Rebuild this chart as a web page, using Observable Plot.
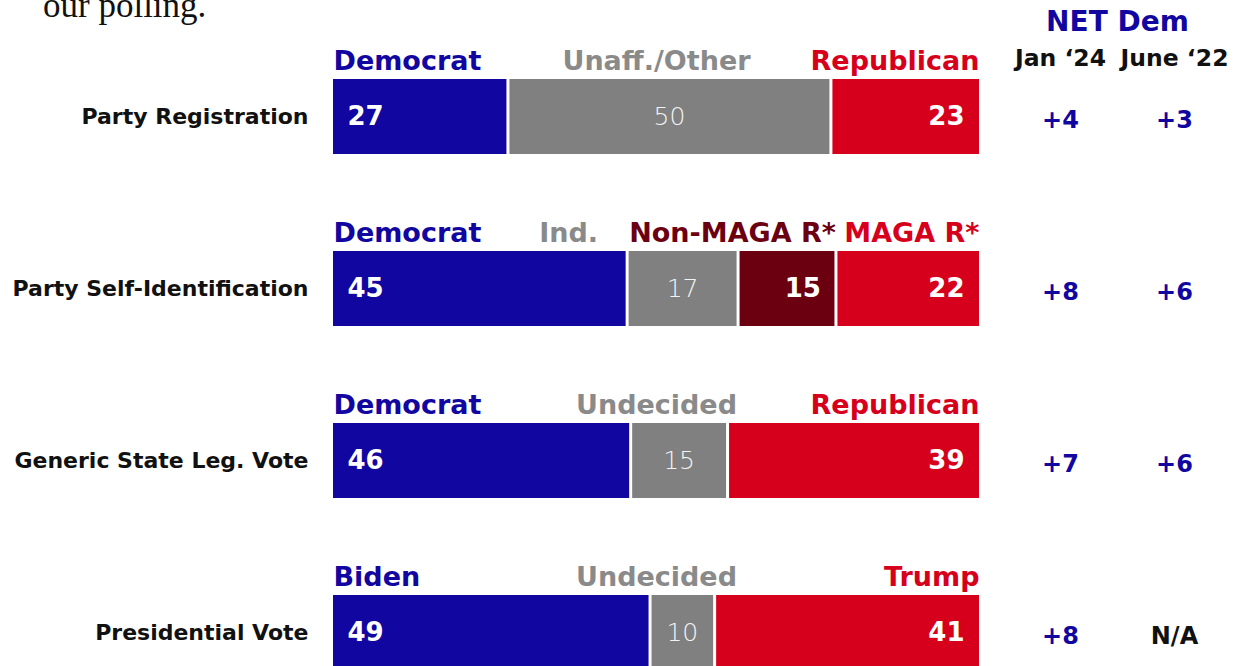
<!DOCTYPE html>
<html><head><meta charset="utf-8">
<script src="https://cdn.jsdelivr.net/npm/d3@7"></script>
<script src="https://cdn.jsdelivr.net/npm/@observablehq/plot@0.6"></script>
<style>
html,body{margin:0;padding:0;background:#fff;overflow:hidden}
#wrap{position:relative;width:1235px;height:666px;overflow:hidden}
#lead{position:absolute;left:43px;top:-12px;font-family:"Liberation Serif","DejaVu Serif",serif;font-size:35px;line-height:1;color:#111}
#chart{position:absolute;left:0;top:0}
</style></head><body>
<div id="wrap"><div id="chart"></div><div id="lead">our polling.</div></div>
<script>
// ---- data ----
const rows = ["Party Registration", "Party Self-Identification", "Generic State Leg. Vote", "Presidential Vote"];
const registration = [27, 50, 23];
const selfIdentification = [45, 17, 15, 22];
const stateLegVote = [46, 15, 39];
const presidentialVote = [49, 10, 41];
const segmentNames = [
  ["Democrat", "Unaff./Other", "Republican"],
  ["Democrat", "Ind.", "Non-MAGA R*", "MAGA R*"],
  ["Democrat", "Undecided", "Republican"],
  ["Biden", "Undecided", "Trump"]
];
const segmentKinds = [
  ["dem", "other", "rep"],
  ["dem", "other", "nonmaga", "rep"],
  ["dem", "other", "rep"],
  ["dem", "other", "rep"]
];
const netJan24 = ["+4", "+8", "+7", "+8"];
const netJune22 = ["+3", "+6", "+6", "N/A"];

// ---- styling ----
const colors = {dem: "#11069f", other: "#808080", nonmaga: "#6b0011", rep: "#d6001c"};
const labelColors = {dem: "#11069f", other: "#8a8a8a", nonmaga: "#6b0011", rep: "#d6001c"};
const font = "'DejaVu Sans', sans-serif";

// ---- build table (each row normalised to 100%) ----
const values = [registration, selfIdentification, stateLegVote, presidentialVote];
const segs = [];
values.forEach((vals, r) => {
  const total = d3.sum(vals);
  let acc = 0;
  vals.forEach((v, i) => {
    segs.push({row: rows[r], r, i, n: vals.length, value: v,
      x1: acc / total * 100, x2: (acc + v) / total * 100,
      name: segmentNames[r][i], kind: segmentKinds[r][i]});
    acc += v;
  });
});

const firstSegs = segs.filter(d => d.i === 0);
const innerBounds = segs.filter(d => d.i > 0);
const otherSegs = segs.filter(d => d.kind === "other");
const endSegs = segs.filter(d => d.i > 0 && d.kind !== "other");
const lastSegs = segs.filter(d => d.i === d.n - 1);
const midCentered = segs.filter(d => d.n === 3 && d.i === 1);
const midEnd = segs.filter(d => d.n === 4 && d.i > 0 && d.i < d.n - 1);

const headerStyle = {y: "row", text: "name", dy: -56, fill: d => labelColors[d.kind], fontSize: 27, fontWeight: "bold"};

const chart = Plot.plot({
  width: 1235, height: 666,
  marginLeft: 333, marginRight: 256, marginTop: 0, marginBottom: 0,
  x: {domain: [0, 100], axis: null},
  y: {domain: rows, range: [79, 670], paddingInner: 0.564, paddingOuter: 0, axis: null},
  style: {fontFamily: font, background: "white", overflow: "visible"},
  marks: [
    Plot.barX(segs, {x1: "x1", x2: "x2", y: "row", fill: d => colors[d.kind]}),
    Plot.tickX(innerBounds, {x: "x1", y: "row", stroke: "white", strokeWidth: 3}),
    Plot.text(firstSegs, {x: "x1", y: "row", text: d => String(d.value), textAnchor: "start", dx: 14, fill: "white", fontSize: 26, fontWeight: "bold"}),
    Plot.text(endSegs, {x: "x2", y: "row", text: d => String(d.value), textAnchor: "end", dx: -15, fill: "white", fontSize: 26, fontWeight: "bold"}),
    Plot.text(otherSegs, {x: d => (d.x1 + d.x2) / 2, y: "row", text: d => String(d.value), textAnchor: "middle", fill: "#f4f4f4", fontSize: 25, fontWeight: 200}),
    // segment headers above bars
    Plot.text(firstSegs, {...headerStyle, x: () => 0, textAnchor: "start"}),
    Plot.text(lastSegs, {...headerStyle, x: () => 100, textAnchor: "end"}),
    Plot.text(midCentered, {...headerStyle, x: () => 50, textAnchor: "middle"}),
    Plot.text(midEnd, {...headerStyle, x: d => d.kind === "other" ? d.x1 - 4.5 : d.x2, textAnchor: "end"}),
    // row labels
    Plot.text(rows, {x: 0, y: d => d, text: d => d, textAnchor: "end", dx: -25, fill: "#111", fontSize: 22, fontWeight: "bold"}),
    // NET Dem columns
    Plot.text(rows, {y: d => d, text: (d, i) => netJan24[i], frameAnchor: "right", dx: 81, dy: 3, fill: "#11069f", fontSize: 24, fontWeight: "bold", textAnchor: "middle"}),
    Plot.text(rows, {y: d => d, text: (d, i) => netJune22[i], frameAnchor: "right", dx: 195, dy: 3, fill: d => d === rows[3] ? "#111" : "#11069f", fontSize: 24, fontWeight: "bold", textAnchor: "middle"}),
    Plot.text(["NET Dem"], {frameAnchor: "top-right", dx: 138, dy: 22, text: d => d, fill: "#11069f", fontSize: 28, fontWeight: "bold", textAnchor: "middle", lineAnchor: "middle"}),
    Plot.text(["Jan \u201824"], {frameAnchor: "top-right", dx: 81, dy: 58, text: d => d, fill: "#111", fontSize: 23.5, fontWeight: "bold", textAnchor: "middle", lineAnchor: "middle"}),
    Plot.text(["June \u201822"], {frameAnchor: "top-right", dx: 195, dy: 58, text: d => d, fill: "#111", fontSize: 23.5, fontWeight: "bold", textAnchor: "middle", lineAnchor: "middle"})
  ]
});
document.getElementById("chart").appendChild(chart);
</script>
</body></html>
